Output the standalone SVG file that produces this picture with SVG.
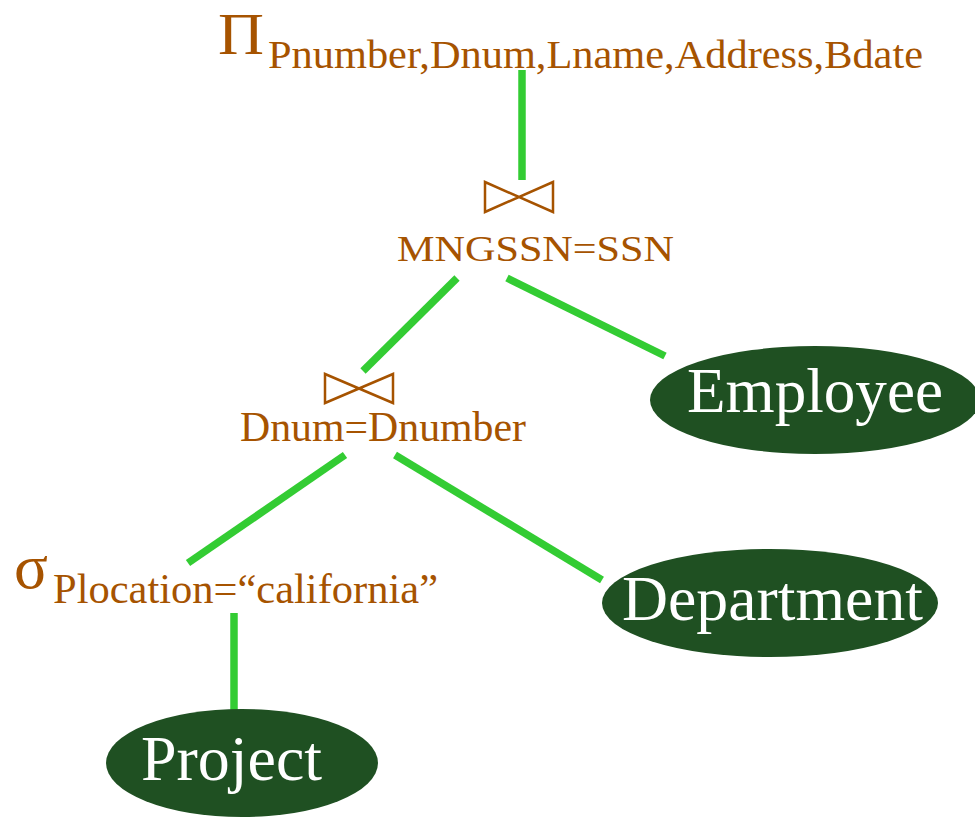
<svg xmlns="http://www.w3.org/2000/svg" width="975" height="817" viewBox="0 0 975 817">
  <style>
    .op { font-family: "Liberation Serif", "Times New Roman", serif; fill: #a65300; }
    .rel { fill: #1f5022; }
    .rel-text { font-family: "Liberation Serif", "Times New Roman", serif; font-size: 63px; fill: #ffffff; }
    .edge { stroke: #33cc33; stroke-width: 7.5; fill: none; }
    .join { stroke: #a65300; stroke-width: 2.5; fill: none; stroke-linejoin: miter; }
  </style>

  <!-- tree edges -->
  <g id="connectors">
    <line class="edge" x1="522" y1="70" x2="522" y2="180"/>
    <line class="edge" x1="457" y1="278" x2="363" y2="371"/>
    <line class="edge" x1="507" y1="278" x2="665" y2="356"/>
    <line class="edge" x1="345" y1="455" x2="188" y2="563"/>
    <line class="edge" x1="395" y1="455" x2="602" y2="580"/>
    <line class="edge" x1="234" y1="613" x2="234" y2="710"/>
  </g>

  <!-- projection -->
  <g id="project-op">
    <text class="op" x="218" y="54" font-size="60" textLength="46" lengthAdjust="spacingAndGlyphs">Π</text>
    <text class="op" x="268" y="68" font-size="40" textLength="655" lengthAdjust="spacingAndGlyphs">Pnumber,Dnum,Lname,Address,Bdate</text>
  </g>

  <!-- join on MNGSSN=SSN -->
  <g id="join-mgr">
    <path class="join" d="M485,182 L485,212 L553,182 L553,212 Z"/>
    <text class="op" x="397" y="261" font-size="36" textLength="277" lengthAdjust="spacingAndGlyphs">MNGSSN=SSN</text>
  </g>

  <!-- join on Dnum=Dnumber -->
  <g id="join-dept">
    <path class="join" d="M325,374 L325,403 L393,374 L393,403 Z"/>
    <text class="op" x="240" y="441" font-size="42" textLength="286" lengthAdjust="spacingAndGlyphs">Dnum=Dnumber</text>
  </g>

  <!-- selection -->
  <g id="select-op">
    <text class="op" x="14" y="588" font-size="63">σ</text>
    <text class="op" x="53" y="603" font-size="42" textLength="385" lengthAdjust="spacingAndGlyphs">Plocation=“california”</text>
  </g>

  <!-- base relations -->
  <g id="employee">
    <ellipse class="rel" cx="815" cy="400" rx="165" ry="54"/>
    <text class="rel-text" x="687" y="412" textLength="256" lengthAdjust="spacingAndGlyphs">Employee</text>
  </g>

  <g id="department">
    <ellipse class="rel" cx="770" cy="603" rx="168" ry="54"/>
    <text class="rel-text" x="622" y="620" textLength="301" lengthAdjust="spacingAndGlyphs">Department</text>
  </g>

  <g id="project">
    <ellipse class="rel" cx="242" cy="763" rx="136" ry="54"/>
    <text class="rel-text" x="141" y="780" textLength="181" lengthAdjust="spacingAndGlyphs">Project</text>
  </g>
</svg>
